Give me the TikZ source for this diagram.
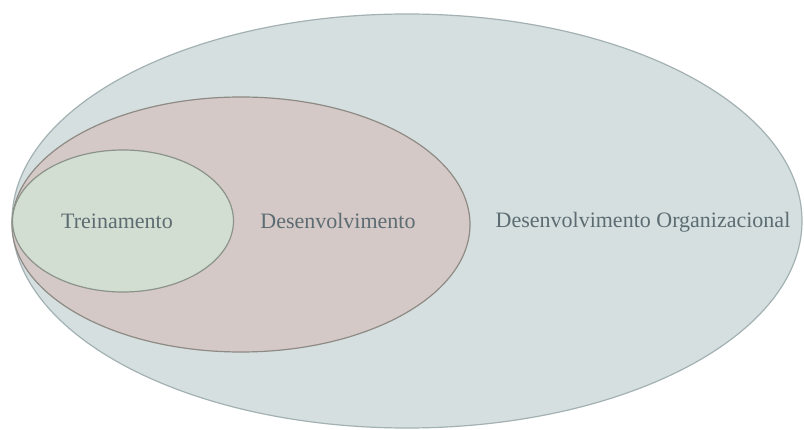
\documentclass[tikz,border=0pt]{standalone}
\usepackage{fontspec}
\setmainfont{Liberation Serif}
\usetikzlibrary{shapes.geometric}
\definecolor{outerfill}{HTML}{D5DFE0}
\definecolor{outerline}{HTML}{A3B1B3}
\definecolor{midfill}{HTML}{D5C9C7}
\definecolor{midline}{HTML}{8E8A84}
\definecolor{innerfill}{HTML}{D3DED2}
\definecolor{innerline}{HTML}{8B938A}
\definecolor{txt}{HTML}{5C6C72}
\tikzset{
  blob/.style={ellipse, inner sep=0pt, line width=1.2pt},
  lbl/.style={text=txt, font=\fontsize{22}{26}\selectfont, inner sep=0pt}
}
\begin{document}
\begin{tikzpicture}[x=1pt,y=-1pt]
\useasboundingbox[fill=white] (0,0) rectangle (804,430);
\node[blob, draw=outerline, fill=outerfill, minimum width=790pt, minimum height=414pt] (org) at (407,221) {};
\node[blob, draw=midline, fill=midfill, minimum width=458pt, minimum height=255pt] (des) at (241,224.5) {};
\node[blob, draw=innerline, fill=innerfill, minimum width=221pt, minimum height=142pt] (tre) at (123,221) {};
\node[lbl] (t1) at (117,221) {Treinamento};
\node[lbl] (t2) at (338,221) {Desenvolvimento};
\node[lbl] (t3) at (643,222) {Desenvolvimento Organizacional};
\end{tikzpicture}
\end{document}
